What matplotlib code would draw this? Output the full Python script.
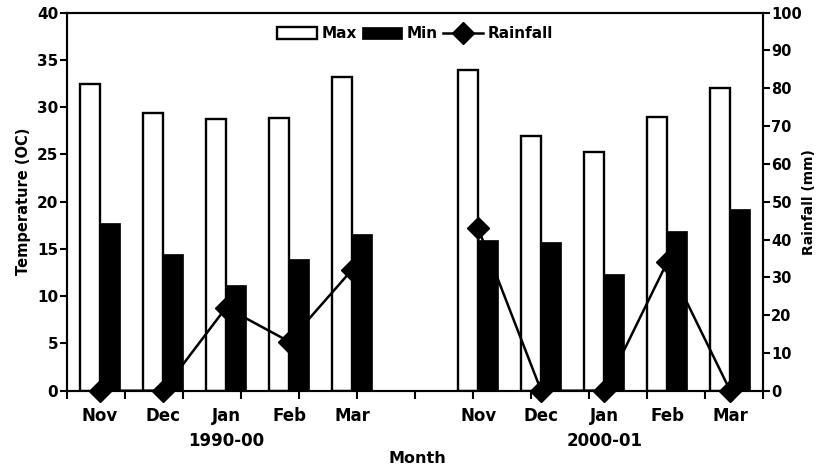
import numpy as np
import matplotlib
matplotlib.use("Agg")
import matplotlib.pyplot as plt

# data
months = ["Nov", "Dec", "Jan", "Feb", "Mar"]
seasons = ["1990-00", "2000-01"]
max_temp_1 = [32.5, 29.4, 28.8, 28.9, 33.2]
min_temp_1 = [17.8, 14.5, 11.2, 13.9, 16.6]
rain_1 = [0, 0, 22, 13, 32]
max_temp_2 = [33.9, 26.9, 25.3, 29.0, 32.0]
min_temp_2 = [16.0, 15.7, 12.4, 16.9, 19.2]
rain_2 = [43, 0, 0, 34, 0]

plt.rcParams["font.family"] = ["DejaVu Sans"]
plt.rcParams["font.weight"] = "bold"

# slot positions: 5 months, one empty slot, 5 months
x1 = np.arange(5)
x2 = np.arange(6, 11)
x = np.concatenate([x1, x2])
max_t = max_temp_1 + max_temp_2
min_t = min_temp_1 + min_temp_2
x_line = np.arange(11)
rain_line = rain_1 + [np.nan] + rain_2

fig = plt.figure(figsize=(8.19, 4.72), dpi=100)
ax = fig.add_axes([0.0814, 0.1722, 0.8502, 0.8009])

w_max = 0.32
w_min = 0.31
ax.bar(x - w_max, max_t, width=w_max, align="edge", facecolor="white",
       edgecolor="black", linewidth=1.7, label="Max")
ax.bar(x, min_t, width=w_min, align="edge", facecolor="black",
       edgecolor="black", linewidth=0.5, label="Min")

xmin, xmax = -0.529, 10.52
ax.set_xlim(xmin, xmax)
ax.set_ylim(0, 40)
ax.set_yticks(np.arange(0, 41, 5))

ax.set_xticks(x)
ax.set_xticklabels(months + months, fontsize=12, fontweight="bold")
ax.tick_params(axis="x", which="major", length=0, pad=12)
ax.set_xticks(np.linspace(xmin, xmax, 13), minor=True)
ax.tick_params(axis="x", which="minor", length=6, width=1.5, direction="out")
ax.tick_params(axis="y", length=5, width=1.5, labelsize=11, pad=1)
for lab in ax.get_yticklabels():
    lab.set_fontweight("bold")

ax.set_ylabel("Temperature (OC)", fontsize=10.5, fontweight="bold", labelpad=4)

for sx, s in zip([2, 8], seasons):
    ax.text(sx, -0.133, s, transform=ax.get_xaxis_transform(), ha="center",
            va="center", fontsize=12, fontweight="bold")
ax.text(5.03, -0.18, "Month", transform=ax.get_xaxis_transform(), ha="center",
        va="center", fontsize=11.5, fontweight="bold")

for sp in ax.spines.values():
    sp.set_linewidth(1.5)

ax2 = ax.twinx()
ax2.plot(x_line, rain_line, color="black", linewidth=1.8, marker="D",
         markersize=11, clip_on=False, label="Rainfall")
ax2.set_ylim(0, 100)
ax2.set_yticks(np.arange(0, 101, 10))
ax2.tick_params(axis="y", length=5, width=1.5, labelsize=10.5, pad=1)
for lab in ax2.get_yticklabels():
    lab.set_fontweight("bold")
ax2.set_ylabel("Rainfall (mm)", fontsize=10, fontweight="bold", labelpad=0)
for sp in ax2.spines.values():
    sp.set_linewidth(1.5)

h1, l1 = ax.get_legend_handles_labels()
h2, l2 = ax2.get_legend_handles_labels()
leg = ax2.legend(h1 + h2, l1 + l2, loc="center", bbox_to_anchor=(0.5, 0.944),
                 ncol=3, frameon=False, fontsize=11, handlelength=2.6,
                 handleheight=0.8, handletextpad=0.3, columnspacing=0.35,
                 borderpad=0)
for t in leg.get_texts():
    t.set_fontweight("bold")

plt.savefig("out.png", dpi=100)
